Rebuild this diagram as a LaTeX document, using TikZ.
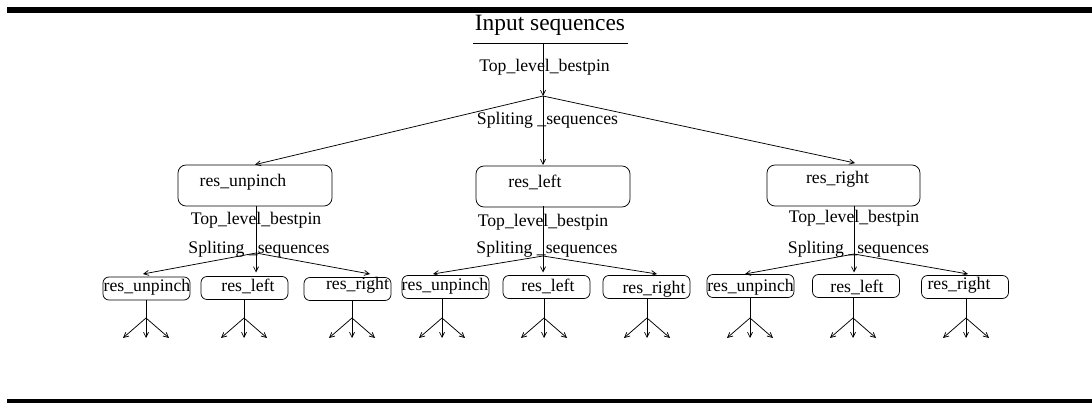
\documentclass[tikz,border=0pt]{standalone}
\usepackage{fontspec}
\setmainfont{Liberation Serif}
\usetikzlibrary{arrows.meta}

\tikzset{
  arr/.style={-{Straight Barb[length=5pt,width=5pt]}},
  lbl/.style={inner sep=0pt, font=\fontsize{17.7}{20}\selectfont},
  bigbox/.style={draw, rounded corners=8pt, minimum width=154pt, minimum height=41pt, inner sep=0pt},
  smallbox/.style={draw, rounded corners=6pt, minimum width=87pt, minimum height=23pt, inner sep=0pt}
}

\begin{document}
\begin{tikzpicture}[x=1pt, y=-1pt, line width=0.75pt]
      \useasboundingbox (0,0) rectangle (1092,403);
      \fill (7,7) rectangle (1092,13);
      \fill (7,399) rectangle (1092,403);

      % top of the tree
      \node[inner sep=0pt, font=\fontsize{23.4}{26}\selectfont] (title) at (550,25) {Input sequences};
      \draw (473,43) -- (628,43);
      \coordinate (in) at (543,43);
      \coordinate (split) at (543,96);
      \draw[arr] (in) -- (split);
      \node[lbl] (tlb) at (544.5,67) {Top\_level\_bestpin};
      \node[lbl] (spl) at (547.5,120) {Spliting \_sequences};

      % first level
      \node[bigbox] (L) at (255,185.5) {};
      \node[bigbox] (M) at (553,186.5) {};
      \node[bigbox, minimum width=153pt] (R) at (843.5,185.5) {};
      \node[lbl] (Lt) at (243,182) {res\_unpinch};
      \node[lbl] (Mt) at (535,182) {res\_left};
      \node[lbl] (Rt) at (837.5,179) {res\_right};
      \coordinate (Min) at (543,165);
      \coordinate (Rin) at (855,163);
      \draw[arr] (split) -- (L.north);
      \draw[arr] (split) -- (Min);
      \draw[arr] (split) -- (Rin);

      % second level
      \foreach \n/\bx/\by/\tx/\ty/\ax/\txt in {
          a1/146.5/288.5/147/287/146/res\_unpinch,
          a2/244.5/288/248/286/244/res\_left,
          a3/347.5/289/357.5/285/352/res\_right,
          b1/445.5/287/445/286/442/res\_unpinch,
          b2/546.5/287/548/286/544/res\_left,
          b3/646.5/287/654/289/647/res\_right,
          c1/750.5/286/750.5/287/750/res\_unpinch,
          c2/856/286/857/287/853/res\_left,
          c3/965/287/959/285/966/res\_right}{
        \node[smallbox] (\n) at (\bx,\by) {};
        \node[lbl] (\n t) at (\tx,\ty) {\txt};
        \coordinate (\n s) at (\ax,\by+11.5);
        \coordinate (\n f) at (\ax,318);
        \coordinate (\n l) at (\ax-23,338);
        \coordinate (\n m) at (\ax,338);
        \coordinate (\n r) at (\ax+23,338);
        \draw[arr] (\n s) -- (\n m);
        \draw[arr] (\n f) -- (\n l);
        \draw[arr] (\n f) -- (\n r);
      }

      % links between the levels
      \foreach \p/\x/\sy/\ly/\lx/\ex/\rx/\a/\b/\c in {
          L/256/253/220/259/143/370/a1/a2/a3,
          M/543/256/222/547/433/657/b1/b2/b3,
          R/854/254/218/858.5/745/968/c1/c2/c3}{
        \coordinate (\p o) at (\x,206.5);
        \coordinate (\p s) at (\x,\sy);
        \coordinate (\p d) at (\x,272.5);
        \coordinate (\p l) at (\ex,274);
        \coordinate (\p r) at (\rx,274);
        \node[lbl] (\p tl) at (\x,\ly) {Top\_level\_bestpin};
        \node[lbl] (\p sp) at (\lx,249) {Spliting \_sequences};
        \draw[arr] (\p o) -- (\p d);
        \draw[arr] (\p s) -- (\p l);
        \draw[arr] (\p s) -- (\p r);
      }
\end{tikzpicture}
\end{document}
